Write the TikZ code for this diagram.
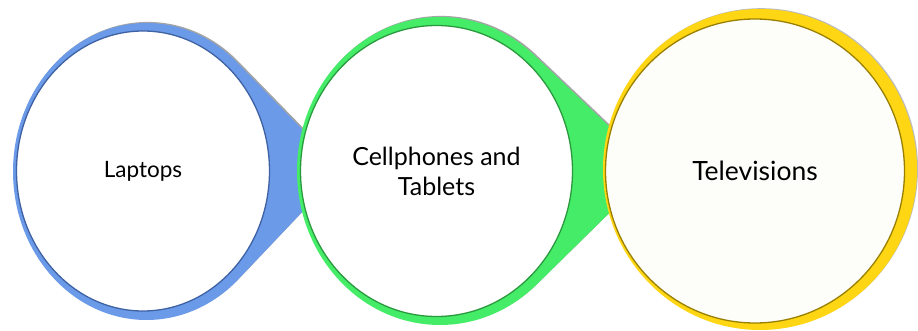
\documentclass[tikz,border=0pt]{standalone}
\usepackage{fontspec}
\setmainfont{Lato}
\usetikzlibrary{shapes.geometric}

\definecolor{bluefill}{HTML}{6A9AE8}
\definecolor{blueline}{HTML}{3E62A4}
\definecolor{greenfill}{HTML}{45EC68}
\definecolor{greenline}{HTML}{2A9A3E}
\definecolor{yellowfill}{HTML}{FFD614}
\definecolor{yellowline}{HTML}{9A8000}
\definecolor{dropshade}{HTML}{6A6A6A}
\definecolor{paper}{HTML}{FDFDFA}

% Coloured ring with a tapering tail: ellipse (centre #1,#2; radii #3,#4)
% joined by its two tangents to the tip (#5,#6), filled with #7.
\newcommand\dropshape[7]{%
  \pgfmathsetmacro\dux{((#5)-(#1))/(#3)}%
  \pgfmathsetmacro\duy{((#6)-(#2))/(#4)}%
  \pgfmathsetmacro\dbase{atan2(\duy,\dux)}%
  \pgfmathsetmacro\dhalf{acos(1/sqrt(\dux*\dux+\duy*\duy))}%
  \pgfmathsetmacro\dstart{\dbase+\dhalf}%
  \pgfmathsetmacro\dend{\dbase-\dhalf+360}%
  \fill[dropshade, opacity=0.6]
    ([shift={(1.2,-1.1)}]#5,#6) -- ([shift={(#1+1.2,#2-1.1)}]\dstart:#3 and #4)
    arc[start angle=\dstart, end angle=\dend, x radius=#3, y radius=#4] -- cycle;
  \fill[#7]
    (#5,#6) -- ([shift={(#1,#2)}]\dstart:#3 and #4)
    arc[start angle=\dstart, end angle=\dend, x radius=#3, y radius=#4] -- cycle;
}

\tikzset{
  disc/.style={ellipse, inner sep=0pt, line width=1.3pt, fill=white,
    align=center, text=black},
}

\begin{document}
\begin{tikzpicture}[x=1pt, y=-1pt]
  \useasboundingbox[fill=white] (0,0) rectangle (918,331);

  % blue stage
  \dropshape{146.5}{171.5}{133.5}{148.5}{342}{170}{bluefill}
  \node[disc, draw=blueline, minimum width=253, minimum height=280,
        font=\fontsize{22.5}{27}\selectfont] (laptops) at (143,171) {Laptops};

  % green stage
  \dropshape{440}{171}{143}{154}{654}{169}{greenfill}
  \node[disc, draw=greenline, minimum width=272, minimum height=291,
        font=\fontsize{25}{30}\selectfont]
        (phones) at (436.5,171) {Cellphones and\\Tablets};

  % yellow stage
  \fill[dropshade, opacity=0.45] (761,168.7) ellipse[x radius=157, y radius=160.5];
  \fill[yellowfill] (760,169.5) ellipse[x radius=157, y radius=160.5];
  \node[disc, draw=yellowline, fill=paper, minimum width=299,
        minimum height=304, font=\fontsize{26.5}{32}\selectfont]
        (tv) at (755,171) {Televisions};
\end{tikzpicture}
\end{document}
